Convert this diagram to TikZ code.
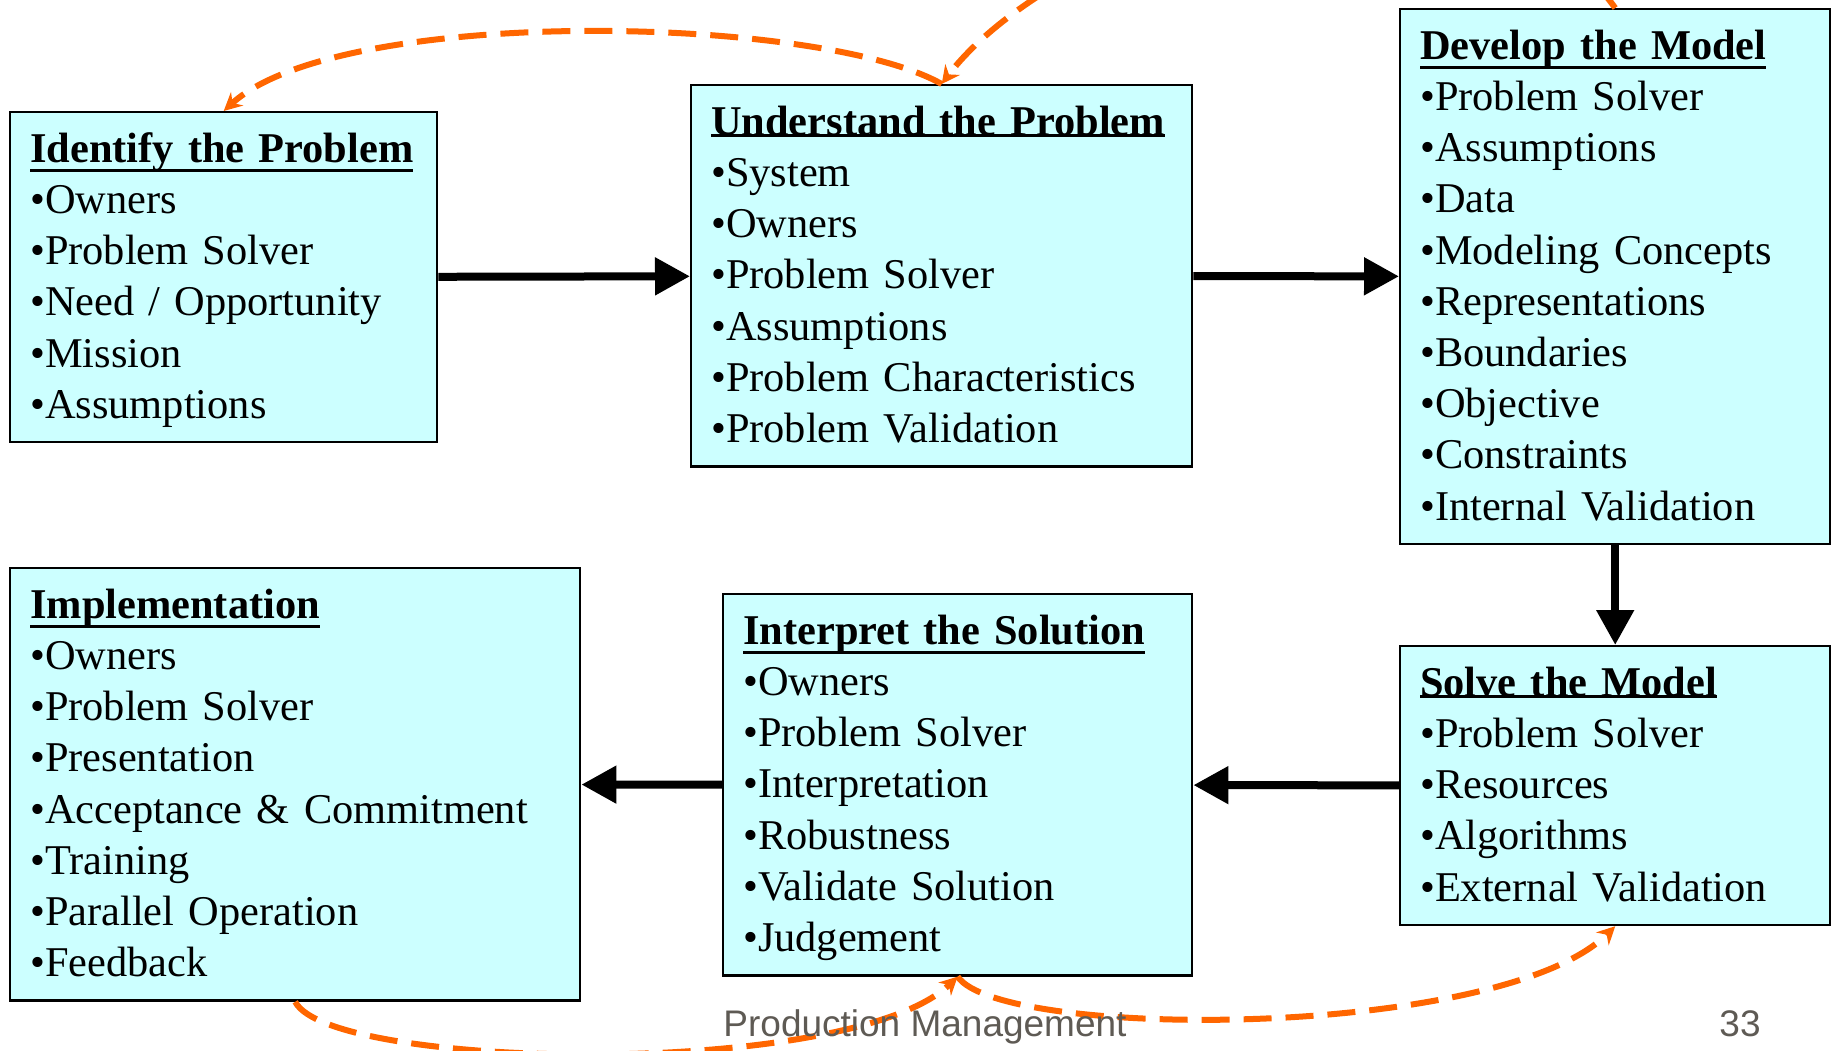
\documentclass[tikz,border=0pt]{standalone}
\usepackage{fontspec}
\setmainfont{Liberation Serif}
\newfontfamily\footfont{Liberation Sans}
\usetikzlibrary{arrows.meta,positioning,calc}
\definecolor{boxcyan}{HTML}{CCFFFF}
\definecolor{looporange}{HTML}{FF6600}
\definecolor{footgray}{HTML}{5E5A54}
\newcommand{\hd}[1]{\vtop{\hbox{\textbf{#1}}\kern-1pt\hrule height 1.5pt}}
\tikzset{
  stagebox/.style={draw=black,line width=1.2pt,fill=boxcyan,anchor=north west,align=left,inner xsep=10pt,inner ysep=0pt,
    font=\fontsize{21.2}{25.6}\selectfont,
    execute at begin node=\rule{0pt}{25pt},execute at end node=\rule[-12pt]{0pt}{0pt}},
  flow/.style={-{Triangle[length=17.5pt,width=18pt]},line width=4pt,draw=black},
  loopback/.style={-{Stealth[length=9pt,width=9pt,inset=3pt]},line width=3pt,draw=looporange,dash pattern=on 14pt off 7pt},
  footer/.style={font=\footfont\fontsize{18.5}{22}\selectfont,text=footgray,anchor=base}
}

\begin{document}
\begin{tikzpicture}[x=0.5pt,y=-0.5pt]
  \useasboundingbox (0,0) rectangle (1831,1050);
  % stages
  \node[stagebox,text width=193.5pt] (identify) at (9,111) {\hd{Identify the Problem}\\•Owners\\•Problem Solver\\•Need / Opportunity\\•Mission\\•Assumptions};
  \node[stagebox,text width=230.5pt] (understand) at (690,84) {\hd{Understand the Problem}\\•System\\•Owners\\•Problem Solver\\•Assumptions\\•Problem Characteristics\\•Problem Validation};
  \node[stagebox,text width=195pt] (develop) at (1399,8) {\hd{Develop the Model}\\•Problem Solver\\•Assumptions\\•Data\\•Modeling Concepts\\•Representations\\•Boundaries\\•Objective\\•Constraints\\•Internal Validation};
  \node[stagebox,text width=195pt] (solve) at (1399,645) {\hd{Solve the Model}\\•Problem Solver\\•Resources\\•Algorithms\\•External Validation};
  \node[stagebox,text width=214.5pt] (interpret) at (722,593) {\hd{Interpret the Solution}\\•Owners\\•Problem Solver\\•Interpretation\\•Robustness\\•Validate Solution\\•Judgement};
  \node[stagebox,text width=265pt] (implement) at (9,567) {\hd{Implementation}\\•Owners\\•Problem Solver\\•Presentation\\•Acceptance \& Commitment\\•Training\\•Parallel Operation\\•Feedback};
  % main flow
  \draw[flow] (identify) -- (understand);
  \draw[flow] (understand) -- (develop);
  \draw[flow] (develop) -- (solve);
  \draw[flow] (solve) -- (interpret);
  \draw[flow] (interpret) -- (implement);
  % feedback loops
  \draw[loopback] (develop.north) .. controls (1450,-220) and (1050,-60) .. (understand.north);
  \draw[loopback] (understand.north) .. controls (820,15) and (340,5) .. (identify.north);
  \draw[loopback] (implement.south) .. controls (330,1070) and (850,1080) .. (interpret.south);
  \draw[loopback] (interpret.south) .. controls (1000,1040) and (1500,1040) .. (solve.south);
  \draw[loopback] (solve.east) .. controls (1990,784) and (1990,275) .. (develop.east);
  % footer
  \node[footer] (footer) at (925,1036) {Production Management};
  \node[footer] (pagenum) at (1740,1036) {33};
\end{tikzpicture}
\end{document}
